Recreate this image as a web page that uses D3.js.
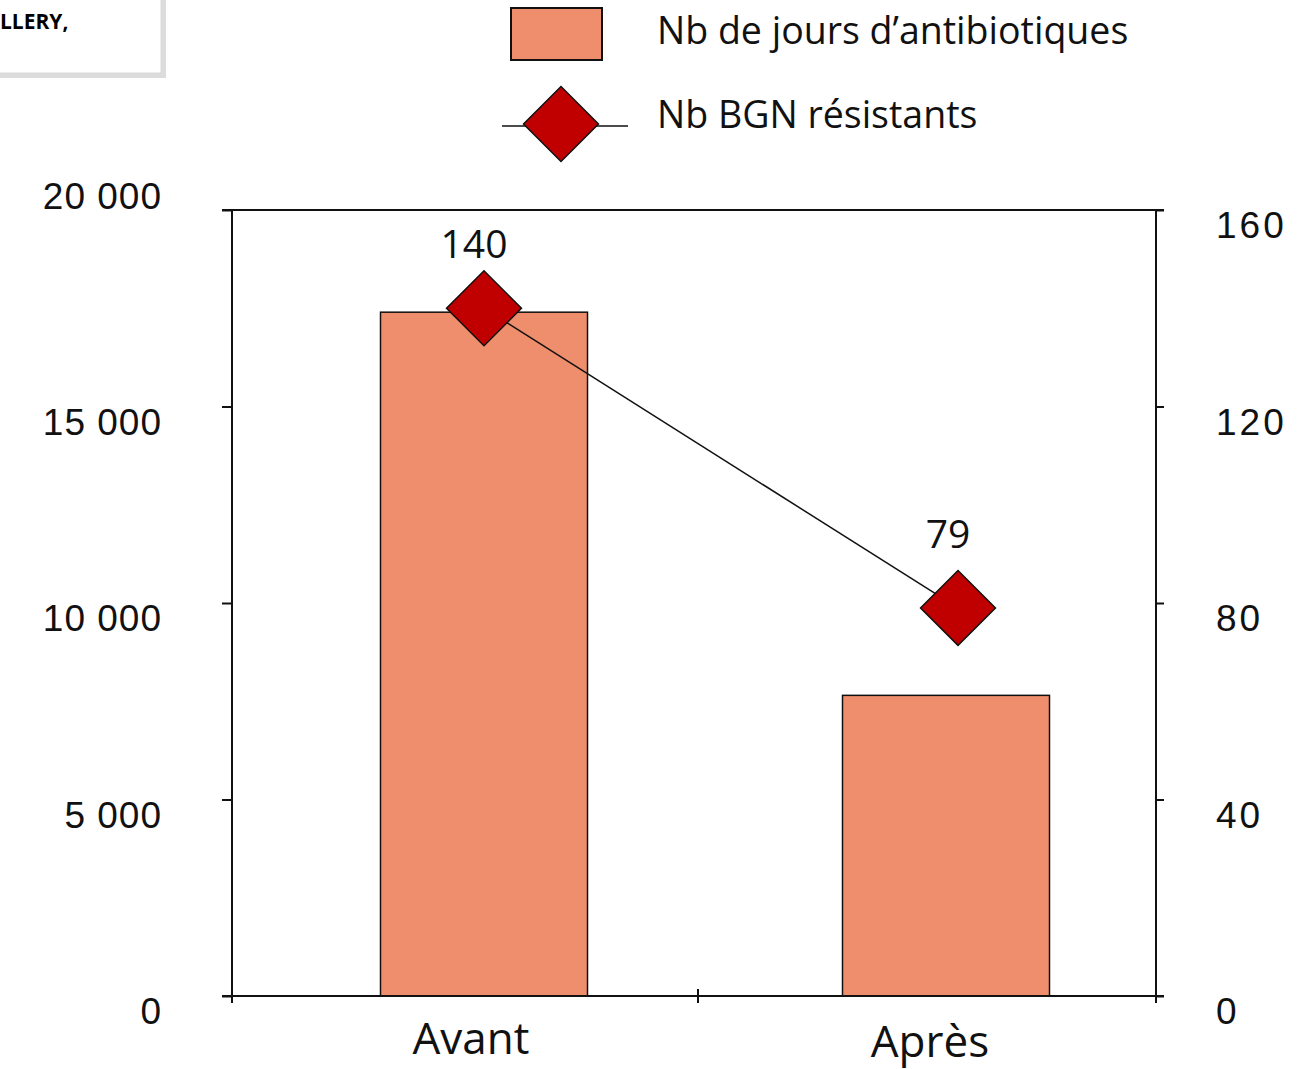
<!DOCTYPE html>
<html>
<head>
<meta charset="utf-8">
<script src="https://cdn.jsdelivr.net/npm/d3@7"></script>
<style>
  body { margin: 0; background: white; }
  svg { display: block; font-family: 'Open Sans', 'Noto Sans', sans-serif; }
</style>
</head>
<body>
<svg id="chart"></svg>
<script>
const categories = ['Avant', 'Après']
const joursAntibio = [17400, 7650]
const bgnResistants = [140, 79]
const leftTicks = [0, 5000, 10000, 15000, 20000]
const rightTicks = [0, 40, 80, 120, 160]
const seriesNames = ['Nb de jours d\u2019antibiotiques', 'Nb BGN résistants']

const width = 1304, height = 1069
const margin = {top: 210, right: 148, bottom: 73, left: 232}

const svg = d3.select('#chart')
    .attr('width', width)
    .attr('height', height)

const x = d3.scaleBand()
    .domain(categories)
    .range([margin.left, width - margin.right])

const yL = d3.scaleLinear()
    .domain([0, 20000])
    .range([height - margin.bottom, margin.top])

const yR = d3.scaleLinear()
    .domain([0, 160])
    .range([height - margin.bottom, margin.top])

const fmt = d => d3.format(',')(d).replace(',', ' ')

// little box cut at the top-left corner
svg.append('rect')
    .attr('x', -10).attr('y', -10).attr('width', 176).attr('height', 88)
    .attr('fill', '#c4c4c4').attr('opacity', 0.6)
svg.append('rect')
    .attr('x', -10).attr('y', -10).attr('width', 171).attr('height', 83)
    .attr('fill', 'white').attr('stroke', '#d8d8d8')
svg.append('text')
    .attr('x', 0).attr('y', 29)
    .style('font-size', '21px').style('font-weight', 'bold')
    .text('LLERY,')

// bars
const barW = 207
const barShift = 21
svg.append('g')
  .selectAll('rect')
  .data(categories)
  .join('rect')
    .attr('x', d => x(d) + x.bandwidth() / 2 + barShift - barW / 2)
    .attr('y', (d, i) => yL(joursAntibio[i]))
    .attr('width', barW)
    .attr('height', (d, i) => yL(0) - yL(joursAntibio[i]))
    .attr('fill', '#EF8E6C')
    .attr('stroke', '#111')
    .attr('stroke-width', 1.5)

// frame
const gx = svg.append('g')
    .attr('transform', `translate(0,${height - margin.bottom})`)
    .call(d3.axisBottom(x).tickSize(0).tickFormat(''))
gx.select('.domain').attr('stroke', '#111').attr('stroke-width', 2)
    .attr('d', `M${margin.left - 10},0H${width - margin.right + 8}`)
// middle tick on the x axis
gx.append('line')
    .attr('x1', x(categories[1]) + 4).attr('x2', x(categories[1]) + 4)
    .attr('y1', -7).attr('y2', 7)
    .attr('stroke', '#111').attr('stroke-width', 2)
;[margin.left, width - margin.right].forEach(px => {
    gx.append('line').attr('x1', px).attr('x2', px).attr('y1', 0).attr('y2', 7)
        .attr('stroke', '#111').attr('stroke-width', 2)
})

svg.append('line')
    .attr('x1', margin.left - 10).attr('x2', width - margin.right + 8)
    .attr('y1', margin.top).attr('y2', margin.top)
    .attr('stroke', '#111').attr('stroke-width', 2)

const gl = svg.append('g')
    .attr('transform', `translate(${margin.left},0)`)
    .call(d3.axisLeft(yL).tickValues(leftTicks).tickSize(10).tickFormat(fmt))
gl.select('.domain').attr('stroke', '#111').attr('stroke-width', 2)
    .attr('d', `M0,${yL(0)}V${yL(20000)}`)
gl.selectAll('.tick line').attr('stroke', '#111').attr('stroke-width', 2)
gl.selectAll('.tick text')
    .attr('x', -70)
    .attr('dy', d => d === 20000 ? '-0.05em' : '0.75em')
    .attr('fill', '#111')
    .style('font-size', '37px')
    .style('letter-spacing', '1px')

const gr = svg.append('g')
    .attr('transform', `translate(${width - margin.right},0)`)
    .call(d3.axisRight(yR).tickValues(rightTicks).tickSize(8))
gr.select('.domain').attr('stroke', '#111').attr('stroke-width', 2)
    .attr('d', `M0,${yR(0)}V${yR(160)}`)
gr.selectAll('.tick line').attr('stroke', '#111').attr('stroke-width', 2)
gr.selectAll('.tick text')
    .attr('x', 60)
    .attr('dy', '0.75em')
    .attr('fill', '#111')
    .style('font-size', '37px')
    .style('letter-spacing', '3px')

// category labels
svg.append('g')
  .selectAll('text')
  .data(categories)
  .join('text')
    .attr('x', (d, i) => x(d) + x.bandwidth() / 2 + (i === 0 ? 8 : 5))
    .attr('y', (d, i) => height - margin.bottom + 58 + i * 3)
    .attr('text-anchor', 'middle')
    .style('font-size', '44px')
    .attr('fill', '#111')
    .text(d => d)

// resistant BGN line + diamonds
const mx = (d, i) => x(d) + x.bandwidth() / 2 + barShift + (i === 0 ? 0 : 12)
const line = d3.line()
    .x(d => mx(d, categories.indexOf(d)))
    .y(d => yR(bgnResistants[categories.indexOf(d)]))

svg.append('path')
    .datum(categories)
    .attr('d', line)
    .attr('fill', 'none')
    .attr('stroke', '#111')
    .attr('stroke-width', 1.5)

const diamond = d3.symbol().type(d3.symbolSquare).size(53 * 53)

svg.append('g')
  .selectAll('path')
  .data(categories)
  .join('path')
    .attr('transform', (d, i) => `translate(${mx(d, i)},${yR(bgnResistants[i])}) rotate(45)`)
    .attr('d', diamond)
    .attr('fill', '#C00000')
    .attr('stroke', '#111')
    .attr('stroke-width', 1.5)

const labelGap = [50, 60]
svg.append('g')
  .selectAll('text')
  .data(categories)
  .join('text')
    .attr('x', (d, i) => mx(d, i) - 10)
    .attr('y', (d, i) => yR(bgnResistants[i]) - labelGap[i])
    .attr('text-anchor', 'middle')
    .style('font-size', '39px')
    .attr('fill', '#111')
    .text((d, i) => bgnResistants[i])

// legend
const legend = svg.append('g')
legend.append('rect')
    .attr('x', 511).attr('y', 8).attr('width', 91).attr('height', 52)
    .attr('fill', '#EF8E6C').attr('stroke', '#111').attr('stroke-width', 2)
legend.append('line')
    .attr('x1', 502).attr('x2', 628).attr('y1', 126).attr('y2', 126)
    .attr('stroke', '#111').attr('stroke-width', 1.5)
legend.append('path')
    .attr('transform', 'translate(561,124) rotate(45)')
    .attr('d', diamond)
    .attr('fill', '#C00000').attr('stroke', '#111').attr('stroke-width', 1.5)
legend.selectAll('text.lg')
  .data(seriesNames)
  .join('text')
    .attr('class', 'lg')
    .attr('x', 657)
    .attr('y', (d, i) => 44 + i * 84)
    .style('font-size', '37.5px')
    .attr('fill', '#111')
    .text(d => d)
</script>
</body>
</html>
